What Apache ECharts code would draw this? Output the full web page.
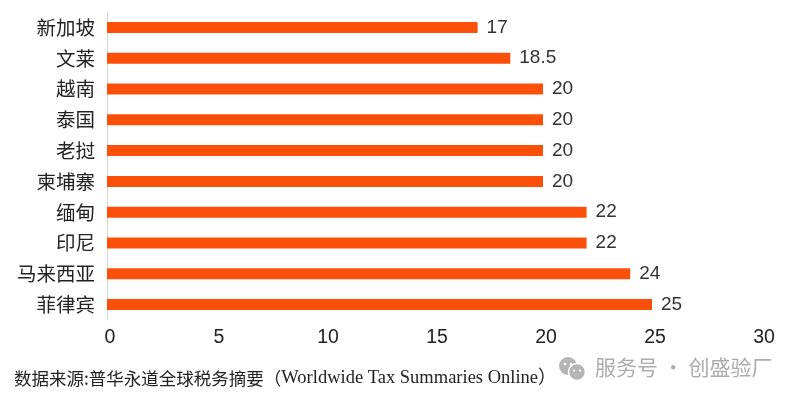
<!DOCTYPE html>
<html><head><meta charset="utf-8">
<script src="https://cdn.jsdelivr.net/npm/echarts@6/dist/echarts.min.js"></script>
<style>html,body{margin:0;padding:0;background:#fff}#c{width:800px;height:401px}</style>
</head><body><div id="c"></div>
<script>
const categories = ['新加坡','文莱','越南','泰国','老挝','柬埔寨','缅甸','印尼','马来西亚','菲律宾'];
const values = [17, 18.5, 20, 20, 20, 20, 22, 22, 24, 25];
const xTicks = [0, 5, 10, 15, 20, 25, 30];
const footerCn = '数据来源:普华永道全球税务摘要（';
const footerEn = 'Worldwide Tax Summaries Online）';
const watermarkText = '服务号 · 创盛验厂';

const chart = echarts.init(document.getElementById('c'));
chart.setOption({
  backgroundColor: '#fff',
  animation: false,
  grid: { left: 107, right: 39, top: 12, bottom: 81, containLabel: false },
  xAxis: {
    type: 'value', min: xTicks[0], max: xTicks[xTicks.length-1], interval: 5,
    axisLine: { show: false }, axisTick: { show: false }, splitLine: { show: false },
    axisLabel: { color: '#222', fontSize: 19.5, fontFamily: 'Liberation Sans, Arial, sans-serif', margin: 8, padding: [0,0,0,6] }
  },
  yAxis: {
    type: 'category', data: categories, inverse: true,
    axisLine: { show: true, lineStyle: { color: '#d6d6d6', width: 1 } },
    axisTick: { show: false },
    axisLabel: { color: '#222', fontSize: 19.5, margin: 12, fontFamily: 'Noto Sans CJK SC, sans-serif' }
  },
  series: [{
    type: 'bar', data: values, barWidth: 11,
    itemStyle: { color: '#FC4F0A' },
    label: { show: true, position: 'right', distance: 9, color: '#333', fontSize: 19, fontFamily: 'Liberation Sans, Arial, sans-serif' }
  }],
  graphic: [
    { type: 'text', left: 14, top: 369, style: {
      text: '{cn|' + footerCn + '}{en|' + footerEn + '}',
      rich: {
        cn: { fill: '#222', fontSize: 17.5, fontFamily: 'Noto Sans CJK SC, serif' },
        en: { fill: '#222', fontSize: 18.5, fontFamily: 'Liberation Serif, Noto Sans CJK SC, serif' }
      } } },
    { type: 'group', left: 559, top: 357, children: [
      { type: 'circle', shape: { cx: 10, cy: 9, r: 9 }, style: { fill: '#b5b5b5' } },
      { type: 'circle', shape: { cx: 19, cy: 15, r: 8.5 }, style: { fill: '#b5b5b5', stroke: '#fff', lineWidth: 1.5 } },
      { type: 'circle', shape: { cx: 7, cy: 7, r: 1.3 }, style: { fill: '#fff' } },
      { type: 'circle', shape: { cx: 13, cy: 7, r: 1.3 }, style: { fill: '#fff' } },
      { type: 'circle', shape: { cx: 16, cy: 13.5, r: 1.1 }, style: { fill: '#fff' } },
      { type: 'circle', shape: { cx: 22, cy: 13.5, r: 1.1 }, style: { fill: '#fff' } }
    ]},
    { type: 'text', left: 595, top: 357, style: { text: watermarkText, fill: '#acacac', fontSize: 21, fontFamily: 'Noto Sans CJK SC, sans-serif' } }
  ]
});
</script></body></html>
